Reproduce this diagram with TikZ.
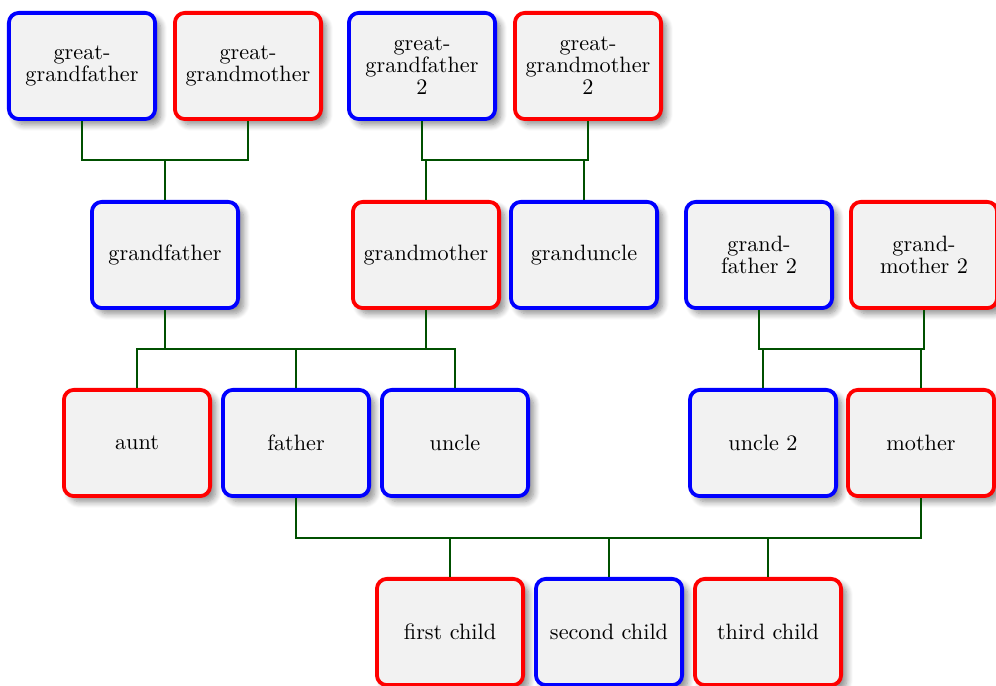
\documentclass[tikz,border=0pt]{standalone}
\usetikzlibrary{shadows.blur}
\definecolor{boxfill}{RGB}{242,242,242}
\definecolor{conncol}{RGB}{0,80,0}
\tikzset{
  person/.style={draw, rounded corners=4.5pt, line width=1.7pt, fill=boxfill,
    minimum width=65.8pt, minimum height=47.8pt, align=center, inner sep=1pt,
    font=\fontsize{10pt}{9.9pt}\selectfont,
    blur shadow={shadow xshift=2.5pt, shadow yshift=-2.5pt, shadow blur radius=2.8pt, shadow blur steps=8, shadow opacity=45}},
  male/.style={person, draw=blue},
  female/.style={person, draw=red},
  conn/.style={draw=conncol, line width=1.3pt, line join=miter}
}
\begin{document}
\begin{tikzpicture}[x=0.45pt,y=-0.45pt]
\useasboundingbox (0,0) rectangle (996,686);
% row 1
\node[male]   (ggf)  at (82,66)  {great-\\grandfather};
\node[female] (ggm)  at (248,66) {great-\\grandmother};
\node[male]   (ggf2) at (422,66) {great-\\grandfather\\2};
\node[female] (ggm2) at (588,66) {great-\\grandmother\\2};
% row 2
\node[male]   (gf)   at (165,255) {grandfather};
\node[female] (gm)   at (426,255) {grandmother};
\node[male]   (gu)   at (584,255) {granduncle};
\node[male]   (gf2)  at (759,255) {grand-\\father 2};
\node[female] (gm2)  at (924,255) {grand-\\mother 2};
% row 3
\node[female] (aunt)   at (137,443) {aunt};
\node[male]   (father) at (296,443) {father};
\node[male]   (uncle)  at (455,443) {uncle};
\node[male]   (uncleb) at (763,443) {uncle 2};
\node[female] (mother) at (921,443) {mother};
% row 4
\node[female] (c1) at (450,632) {first child};
\node[male]   (c2) at (609,632) {second child};
\node[female] (c3) at (768,632) {third child};
% family levels
\coordinate (l1) at (0,160);
\coordinate (l3) at (0,349);
\coordinate (l5) at (0,538);
% family 1
\draw[conn] (ggf.south) -- (ggf.south |- l1) -- (ggm.south |- l1) -- (ggm.south);
\draw[conn] (gf.north |- l1) -- (gf.north);
% family 2
\draw[conn] (ggf2.south) -- (ggf2.south |- l1) -- (ggm2.south |- l1) -- (ggm2.south);
\draw[conn] (gm.north |- l1) -- (gm.north);
\draw[conn] (gu.north |- l1) -- (gu.north);
% family 3
\draw[conn] (aunt.north) -- (aunt.north |- l3) -- (uncle.north |- l3) -- (uncle.north);
\draw[conn] (gf.south) -- (gf.south |- l3);
\draw[conn] (gm.south) -- (gm.south |- l3);
\draw[conn] (father.north |- l3) -- (father.north);
% family 4
\draw[conn] (gf2.south) -- (gf2.south |- l3) -- (gm2.south |- l3) -- (gm2.south);
\draw[conn] (uncleb.north |- l3) -- (uncleb.north);
\draw[conn] (mother.north |- l3) -- (mother.north);
% family 5
\draw[conn] (father.south) -- (father.south |- l5) -- (mother.south |- l5) -- (mother.south);
\draw[conn] (c1.north |- l5) -- (c1.north);
\draw[conn] (c2.north |- l5) -- (c2.north);
\draw[conn] (c3.north |- l5) -- (c3.north);
\end{tikzpicture}
\end{document}
